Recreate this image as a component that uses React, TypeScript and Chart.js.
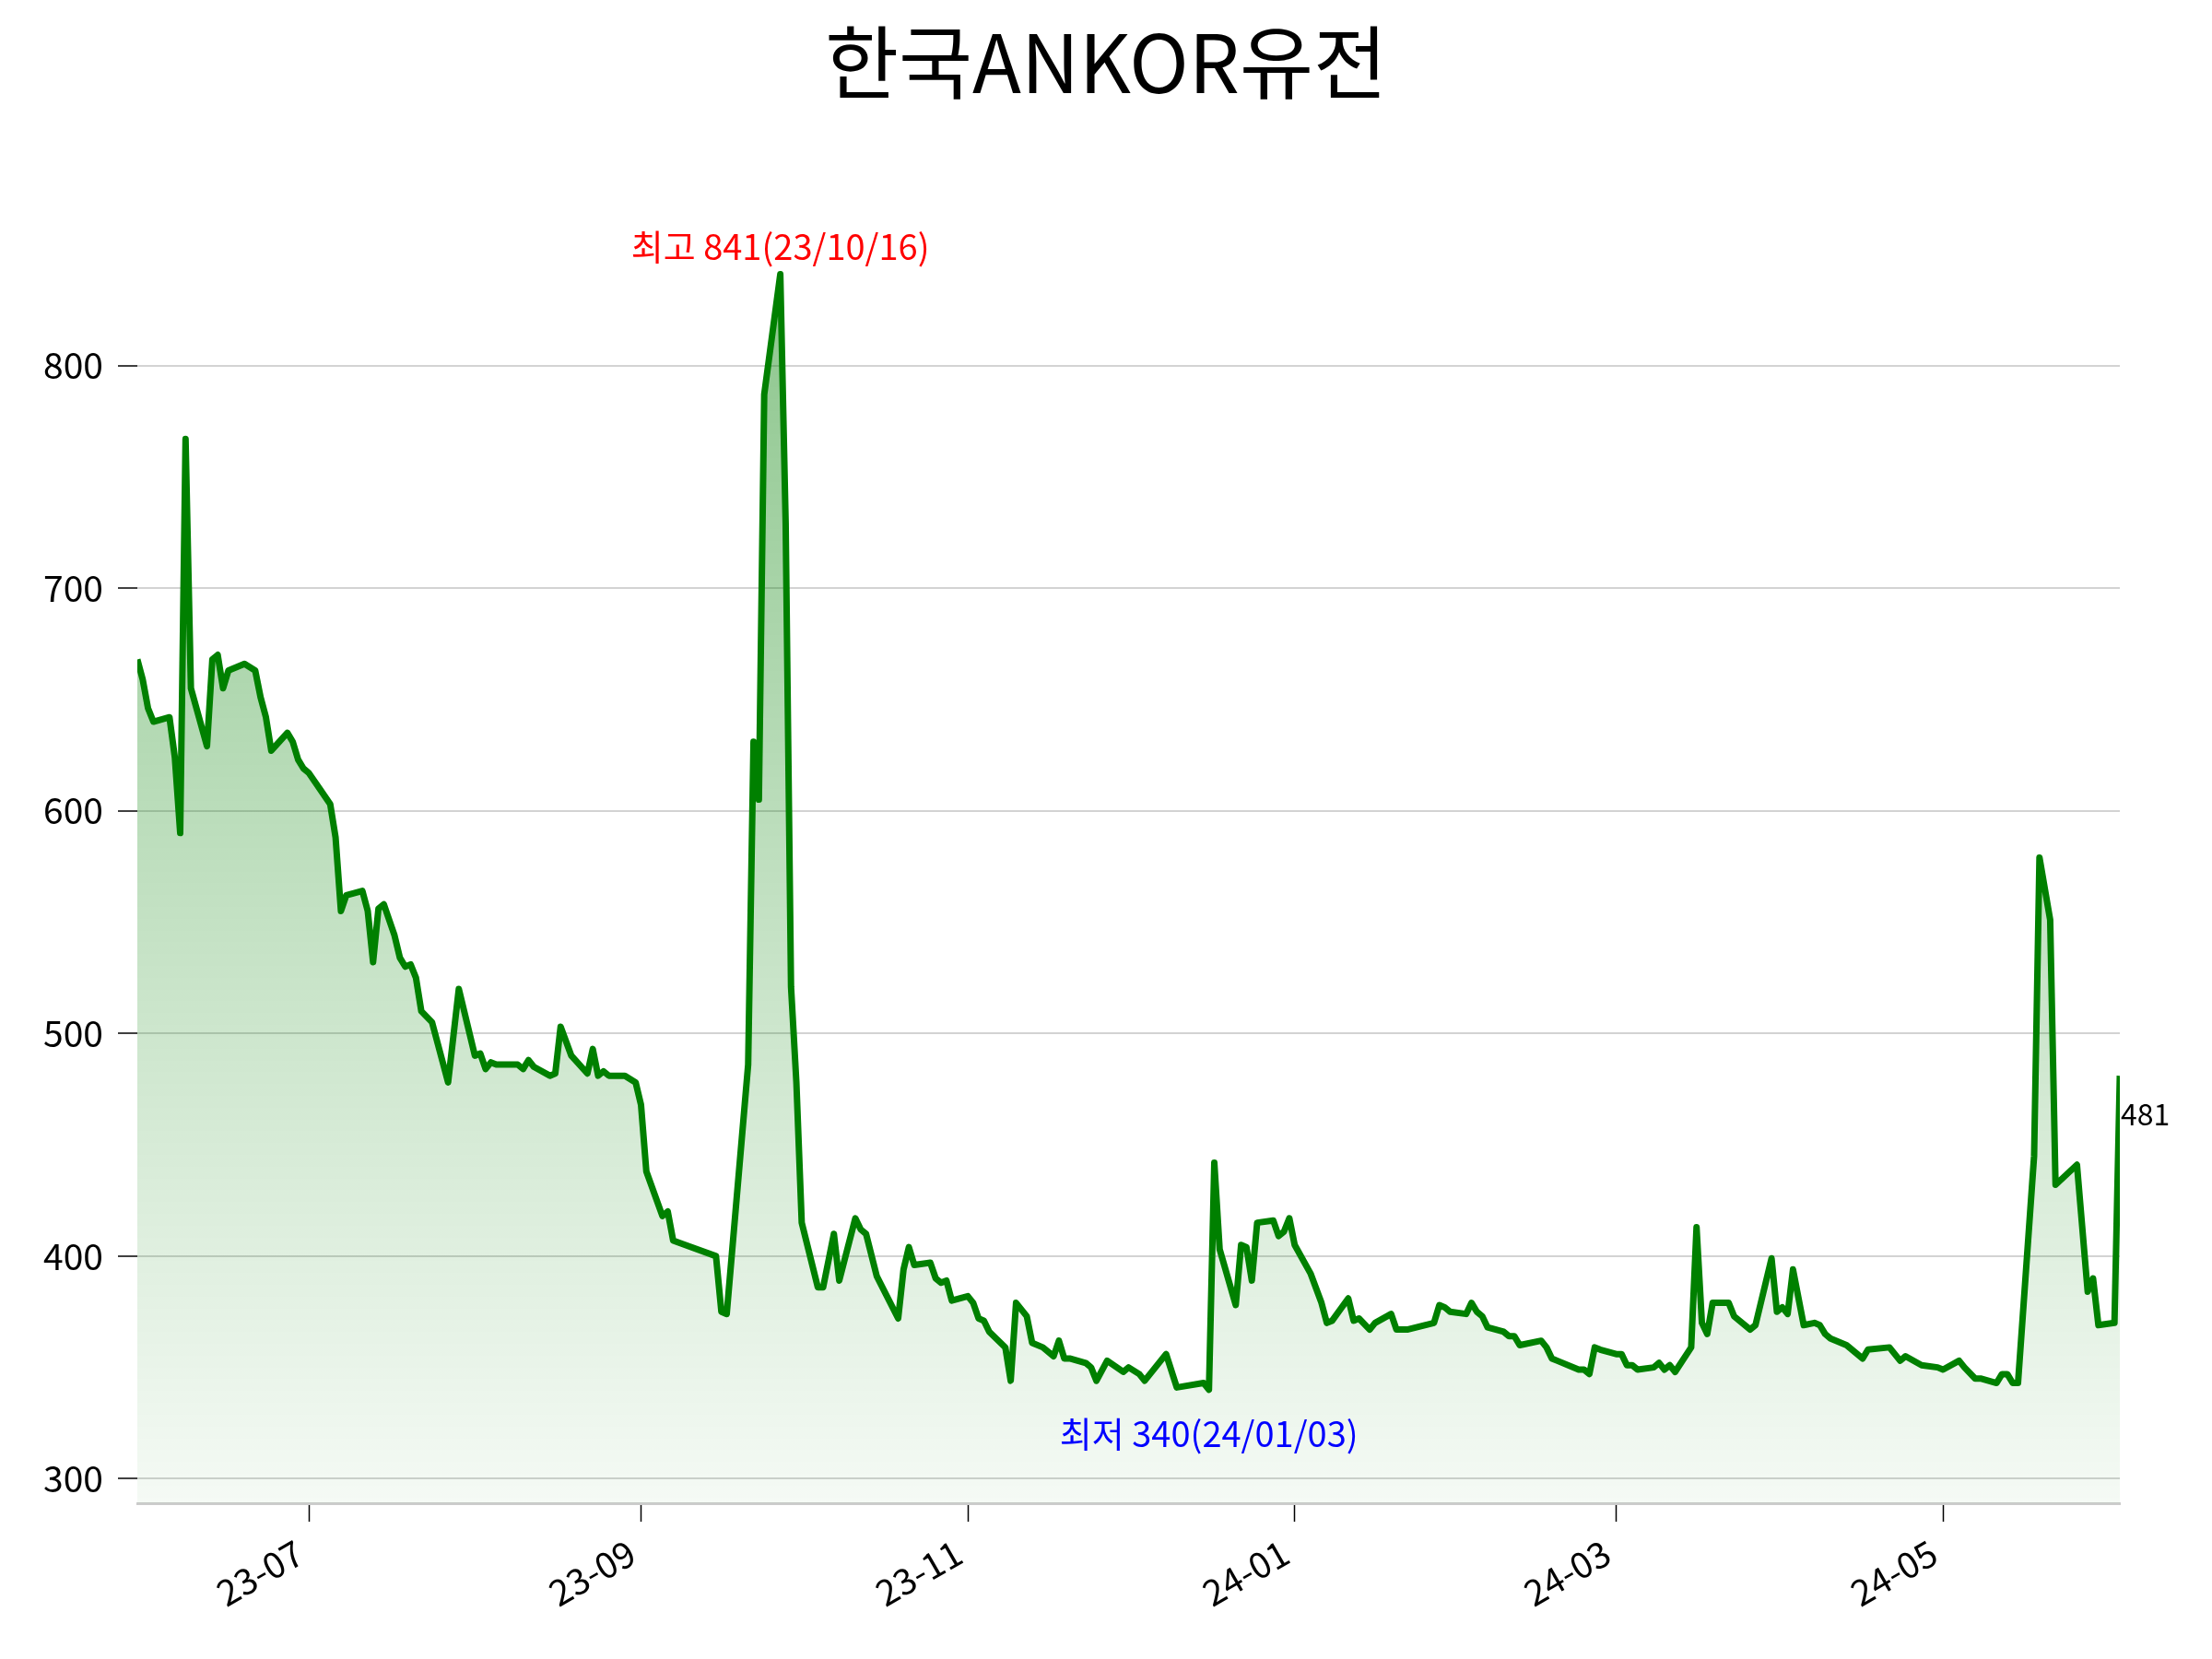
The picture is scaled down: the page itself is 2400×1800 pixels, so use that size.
import React, { useEffect, useRef } from "react";
import { Chart, registerables } from "chart.js";

Chart.register(...registerables);

const FONT = '"Noto Sans CJK KR", "Noto Sans", sans-serif';

const title = "한국ANKOR유전";

const dates = [
  "2023-05-30", "2023-05-31", "2023-06-01", "2023-06-02", "2023-06-05", "2023-06-06", "2023-06-07", "2023-06-08",
  "2023-06-09", "2023-06-12", "2023-06-13", "2023-06-14", "2023-06-15", "2023-06-16", "2023-06-19", "2023-06-21",
  "2023-06-22", "2023-06-23", "2023-06-24", "2023-06-27", "2023-06-28", "2023-06-29", "2023-06-30", "2023-07-01",
  "2023-07-03", "2023-07-05", "2023-07-06", "2023-07-07", "2023-07-08", "2023-07-11", "2023-07-12", "2023-07-13",
  "2023-07-14", "2023-07-15", "2023-07-17", "2023-07-18", "2023-07-19", "2023-07-20", "2023-07-21", "2023-07-22",
  "2023-07-24", "2023-07-27", "2023-07-29", "2023-08-01", "2023-08-02", "2023-08-03", "2023-08-04", "2023-08-05",
  "2023-08-09", "2023-08-10", "2023-08-11", "2023-08-12", "2023-08-15", "2023-08-16", "2023-08-17", "2023-08-19",
  "2023-08-22", "2023-08-23", "2023-08-24", "2023-08-25", "2023-08-26", "2023-08-29", "2023-08-31", "2023-09-01",
  "2023-09-02", "2023-09-05", "2023-09-06", "2023-09-07", "2023-09-15", "2023-09-16", "2023-09-17", "2023-09-21",
  "2023-09-22", "2023-09-23", "2023-09-24", "2023-09-27", "2023-09-28", "2023-09-29", "2023-09-30", "2023-10-01",
  "2023-10-04", "2023-10-05", "2023-10-07", "2023-10-08", "2023-10-11", "2023-10-12", "2023-10-13", "2023-10-15",
  "2023-10-19", "2023-10-20", "2023-10-21", "2023-10-22", "2023-10-25", "2023-10-26", "2023-10-27", "2023-10-28",
  "2023-10-29", "2023-11-01", "2023-11-02", "2023-11-03", "2023-11-04", "2023-11-05", "2023-11-08", "2023-11-09",
  "2023-11-10", "2023-11-12", "2023-11-13", "2023-11-15", "2023-11-17", "2023-11-18", "2023-11-19", "2023-11-20",
  "2023-11-23", "2023-11-24", "2023-11-25", "2023-11-27", "2023-11-30", "2023-12-01", "2023-12-03", "2023-12-04",
  "2023-12-08", "2023-12-10", "2023-12-15", "2023-12-16", "2023-12-17", "2023-12-18", "2023-12-21", "2023-12-22",
  "2023-12-23", "2023-12-24", "2023-12-25", "2023-12-28", "2023-12-29", "2023-12-30", "2023-12-31", "2024-01-01",
  "2024-01-04", "2024-01-06", "2024-01-07", "2024-01-08", "2024-01-11", "2024-01-12", "2024-01-13", "2024-01-15",
  "2024-01-16", "2024-01-19", "2024-01-20", "2024-01-22", "2024-01-27", "2024-01-28", "2024-01-29", "2024-01-30",
  "2024-02-02", "2024-02-03", "2024-02-04", "2024-02-05", "2024-02-06", "2024-02-09", "2024-02-10", "2024-02-11",
  "2024-02-12", "2024-02-16", "2024-02-17", "2024-02-18", "2024-02-19", "2024-02-23", "2024-02-24", "2024-02-25",
  "2024-02-26", "2024-02-27", "2024-03-01", "2024-03-02", "2024-03-03", "2024-03-04", "2024-03-05", "2024-03-08",
  "2024-03-09", "2024-03-10", "2024-03-11", "2024-03-12", "2024-03-15", "2024-03-16", "2024-03-17", "2024-03-18",
  "2024-03-19", "2024-03-22", "2024-03-23", "2024-03-26", "2024-03-27", "2024-03-30", "2024-03-31", "2024-04-01",
  "2024-04-02", "2024-04-03", "2024-04-05", "2024-04-07", "2024-04-08", "2024-04-09", "2024-04-10", "2024-04-13",
  "2024-04-16", "2024-04-17", "2024-04-21", "2024-04-22", "2024-04-23", "2024-04-24", "2024-04-27", "2024-04-30",
  "2024-05-01", "2024-05-04", "2024-05-05", "2024-05-07", "2024-05-08", "2024-05-11", "2024-05-12", "2024-05-13",
  "2024-05-14", "2024-05-15", "2024-05-18", "2024-05-19", "2024-05-21", "2024-05-22", "2024-05-26", "2024-05-28",
  "2024-05-29", "2024-05-30", "2024-06-02", "2024-06-03",
];

const prices = [
  668, 659, 646, 640, 642, 624, 590, 767,
  655, 629, 668, 670, 655, 663, 666, 663,
  651, 642, 627, 635, 631, 623, 619, 617,
  610, 603, 588, 555, 562, 564, 555, 532,
  556, 558, 544, 534, 530, 531, 525, 510,
  505, 478, 520, 490, 491, 484, 487, 486,
  486, 484, 488, 485, 481, 482, 503, 490,
  482, 493, 481, 483, 481, 481, 478, 468,
  438, 418, 420, 407, 400, 375, 374, 486,
  631, 605, 787, 841, 729, 521, 478, 415,
  386, 386, 410, 389, 417, 412, 410, 391,
  372, 394, 404, 396, 397, 390, 388, 389,
  380, 382, 379, 372, 371, 366, 359, 344,
  379, 373, 361, 359, 355, 362, 354, 354,
  352, 350, 344, 353, 348, 350, 347, 344,
  356, 341, 343, 340, 442, 403, 378, 405,
  404, 389, 415, 416, 409, 411, 417, 405,
  392, 379, 370, 371, 381, 371, 372, 367,
  370, 374, 367, 367, 370, 378, 377, 375,
  374, 379, 375, 373, 368, 366, 364, 364,
  360, 362, 359, 354, 353, 349, 349, 347,
  359, 358, 356, 356, 351, 351, 349, 350,
  352, 349, 351, 348, 359, 413, 370, 365,
  379, 379, 373, 367, 369, 399, 375, 377,
  374, 394, 369, 370, 369, 365, 363, 360,
  354, 358, 359, 356, 353, 355, 351, 350,
  349, 353, 350, 345, 345, 343, 347, 347,
  343, 343, 445, 579, 551, 432, 441, 384,
  390, 369, 370, 481,
];

const yTicks = [300, 400, 500, 600, 700, 800];
const xTickDates = ["2023-07-01", "2023-09-01", "2023-11-01", "2024-01-01", "2024-03-01", "2024-05-01"];
const xTickLabels = ["23-07", "23-09", "23-11", "24-01", "24-03", "24-05"];

const highDateLabel = "23/10/16";
const lowDateLabel = "24/01/03";

const DAY = 86400000;
const toDay = (s: string) => Date.parse(s) / DAY;

// title centred on the whole canvas, plus the high / low / last-value notes
const labelsPlugin = {
  id: "priceLabels",
  afterDraw(chart: any) {
    const { ctx, scales, chartArea } = chart;
    const x = scales.x;
    const y = scales.y;
    const hi = prices.indexOf(Math.max(...prices));
    const lo = prices.indexOf(Math.min(...prices));
    const last = prices.length - 1;
    ctx.save();
    ctx.textBaseline = "middle";

    ctx.font = `87px ${FONT}`;
    ctx.textAlign = "center";
    ctx.fillStyle = "#000000";
    ctx.fillText(title, chart.width / 2, 68);

    ctx.font = `38px ${FONT}`;
    ctx.fillStyle = "#ff0000";
    ctx.fillText(
      `최고 ${prices[hi]}(${highDateLabel})`,
      x.getPixelForValue(toDay(dates[hi])),
      y.getPixelForValue(prices[hi]) - 30
    );
    ctx.fillStyle = "#0000ff";
    ctx.fillText(
      `최저 ${prices[lo]}(${lowDateLabel})`,
      x.getPixelForValue(toDay(dates[lo])),
      y.getPixelForValue(prices[lo]) + 48
    );

    ctx.font = `32px ${FONT}`;
    ctx.textAlign = "left";
    ctx.fillStyle = "#000000";
    ctx.fillText(String(prices[last]), chartArea.right + 1, y.getPixelForValue(prices[last]) + 42);
    ctx.restore();
  },
};

export default function App() {
  const canvasRef = useRef<HTMLCanvasElement | null>(null);

  useEffect(() => {
    if (!canvasRef.current) return;
    document.body.style.margin = "0";
    const points = dates.map((d, i) => ({ x: toDay(d), y: prices[i] }));

    const chart = new Chart(canvasRef.current, {
      type: "line",
      data: {
        datasets: [
          {
            data: points,
            borderColor: "#008000",
            borderWidth: 7,
            borderJoinStyle: "round",
            pointRadius: 0,
            tension: 0,
            fill: "start",
            backgroundColor: (c: any) => {
              const area = c.chart.chartArea;
              if (!area) return "rgba(0,128,0,0.2)";
              const g = c.chart.ctx.createLinearGradient(0, area.top, 0, area.bottom);
              g.addColorStop(0, "rgba(0,128,0,0.48)");
              g.addColorStop(1, "rgba(0,128,0,0.04)");
              return g;
            },
          },
        ],
      },
      options: {
        responsive: false,
        animation: false,
        devicePixelRatio: 1,
        layout: { padding: { left: 0, right: 100, top: 196, bottom: 0 } },
        plugins: {
          legend: { display: false },
          tooltip: { enabled: false },
          title: { display: false },
        },
        scales: {
          x: {
            type: "linear",
            min: toDay(dates[0]),
            max: toDay(dates[dates.length - 1]),
            afterBuildTicks: (s: any) => {
              s.ticks = xTickDates.map((d) => ({ value: toDay(d) }));
            },
            afterFit: (s: any) => {
              s.height = 169;
            },
            ticks: {
              autoSkip: false,
              minRotation: 30,
              maxRotation: 30,
              padding: 10,
              labelOffset: -10,
              color: "#000000",
              font: { family: FONT, size: 39 },
              callback: (_v: any, i: number) => xTickLabels[i],
            },
            grid: {
              display: true,
              drawOnChartArea: false,
              drawTicks: true,
              tickLength: 20,
              tickColor: "#000000",
              tickWidth: 1.5,
            },
            border: { display: true, color: "#cccccc", width: 3 },
          },
          y: {
            type: "linear",
            min: 289,
            max: 883,
            afterBuildTicks: (s: any) => {
              s.ticks = yTicks.map((v) => ({ value: v }));
            },
            afterFit: (s: any) => {
              s.width = 149;
            },
            ticks: {
              padding: 16,
              color: "#000000",
              font: { family: FONT, size: 39 },
            },
            grid: {
              color: "#d3d3d3",
              lineWidth: 2,
              drawTicks: true,
              tickLength: 21,
              tickColor: "#000000",
              tickWidth: 1.5,
            },
            border: { display: false },
          },
        },
      },
      plugins: [labelsPlugin],
    });
    return () => chart.destroy();
  }, []);

  return (
    <div style={{ width: 2400, height: 1800 }}>
      <canvas ref={canvasRef} width={2400} height={1800} style={{ width: 2400, height: 1800 }} />
    </div>
  );
}
